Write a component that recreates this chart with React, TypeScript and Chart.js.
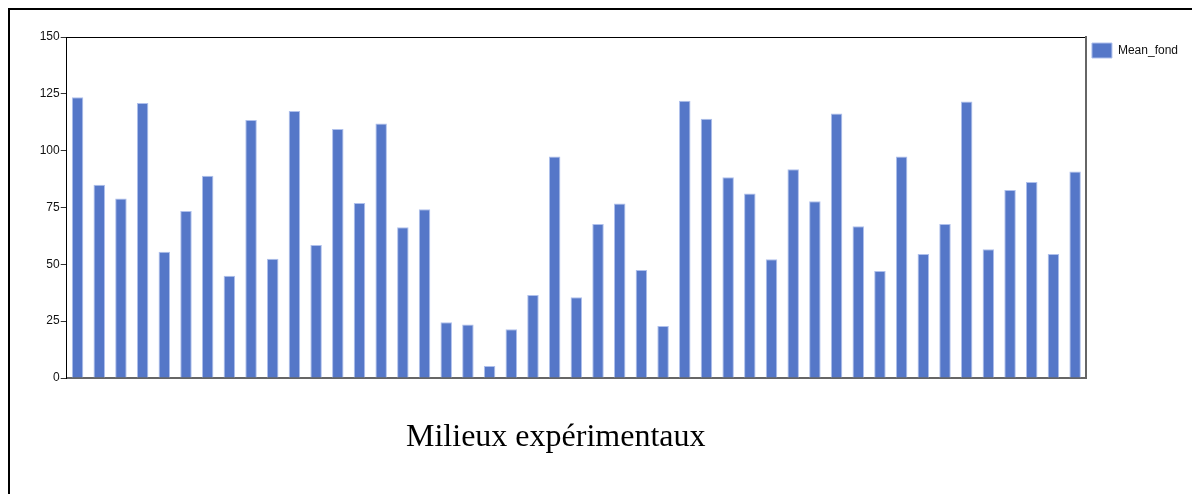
import React, { useEffect, useRef } from "react";
import { Chart, registerables } from "chart.js";

Chart.register(...registerables);

const seriesName = "Mean_fond";
const categories: string[] = Array.from({ length: 47 }, (_, i) => `M${i + 1}`);
const meanFond: number[] = [
  123.5, 85, 79, 121, 55.5, 73.5, 89, 45, 113.5, 52.5,
  117.5, 58.5, 109.5, 77, 112, 66.3, 74.2, 24.5, 23.5, 5.3,
  21.4, 36.5, 97.4, 35.5, 67.7, 76.8, 47.5, 22.9, 122, 114,
  88.3, 81.2, 52.2, 91.8, 77.7, 116.4, 66.7, 47.1, 97.4, 54.6,
  67.7, 121.6, 56.6, 82.7, 86.2, 54.6, 90.8,
];
const yMin = 0;
const yMax = 150;
const yStep = 25;
const xTitle = "Milieux expérimentaux";

export default function App() {
  const canvasRef = useRef<HTMLCanvasElement | null>(null);

  useEffect(() => {
    const canvas = canvasRef.current;
    if (!canvas) return;
    Chart.defaults.font.family = "'Liberation Sans', Arial, sans-serif";
    const chart = new Chart(canvas, {
      type: "bar",
      data: {
        labels: categories,
        datasets: [
          {
            label: seriesName,
            data: meanFond,
            backgroundColor: "#5577C8",
            borderColor: "#AFC0EC",
            borderWidth: 1,
            borderSkipped: "bottom",
            categoryPercentage: 1,
            barPercentage: 0.53,
            xAxisID: "x",
            yAxisID: "y",
          },
        ],
      },
      options: {
        responsive: false,
        animation: false,
        devicePixelRatio: 1,
        layout: { padding: { left: 38.7, top: 37, right: 4, bottom: 116 } },
        plugins: {
          tooltip: { enabled: false },
          legend: {
            position: "right",
            align: "start",
            labels: {
              boxWidth: 20,
              boxHeight: 15,
              padding: 6,
              color: "#111",
              font: { size: 12 },
            },
          },
        },
        scales: {
          x: {
            type: "category",
            position: "bottom",
            grid: { display: false, drawTicks: false },
            ticks: { display: false },
            border: { display: true, color: "#666", width: 2 },
          },
          xTop: {
            type: "category",
            position: "top",
            labels: categories,
            grid: { display: false, drawTicks: false },
            ticks: { display: false },
            border: { display: true, color: "#000", width: 1 },
          },
          y: {
            type: "linear",
            position: "left",
            min: yMin,
            max: yMax,
            grid: { drawOnChartArea: false, drawTicks: true, tickLength: 6, color: "#333" },
            border: { display: true, color: "#000", width: 1 },
            ticks: {
              stepSize: yStep,
              padding: 1,
              color: "#111",
              font: { size: 12 },
            },
          },
          yRight: {
            type: "linear",
            position: "right",
            min: yMin,
            max: yMax,
            grid: { display: false, drawTicks: false },
            ticks: { display: false },
            border: { display: true, color: "#666", width: 2 },
          },
        },
      },
    });
    return () => chart.destroy();
  }, []);

  return (
    <div style={{ position: "fixed", left: 0, top: 0, width: 1192, height: 494, background: "#fff" }}>
      <div
        style={{
          position: "absolute",
          left: 8,
          top: 8,
          right: 0,
          bottom: 0,
          borderTop: "2px solid #000",
          borderLeft: "2px solid #000",
        }}
      />
      <canvas
        ref={canvasRef}
        width={1192}
        height={494}
        style={{ position: "absolute", left: 0, top: 0, width: 1192, height: 494 }}
      />
      <div
        style={{
          position: "absolute",
          left: 406,
          top: 419,
          fontFamily: "'Liberation Serif', 'Times New Roman', serif",
          fontSize: 32,
          lineHeight: "32px",
          color: "#000",
          whiteSpace: "nowrap",
        }}
      >
        {xTitle}
      </div>
    </div>
  );
}
